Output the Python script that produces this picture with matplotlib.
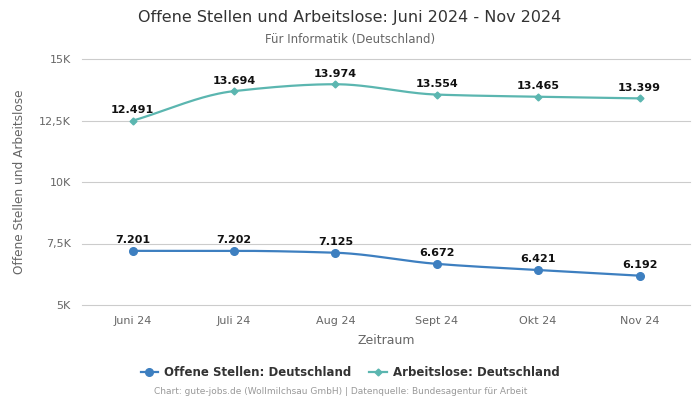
import numpy as np
import matplotlib
matplotlib.use("Agg")
import matplotlib.pyplot as plt

months = ["Juni 24", "Juli 24", "Aug 24", "Sept 24", "Okt 24", "Nov 24"]
offene = [7201, 7202, 7125, 6672, 6421, 6192]
arbeitslose = [12491, 13694, 13974, 13554, 13465, 13399]
yticks = [5000, 7500, 10000, 12500, 15000]
ytick_labels = ["5K", "7,5K", "10K", "12,5K", "15K"]

blue = "#3d7fc0"
teal = "#5bb6b0"


def smooth(x, y, n=40):
    # monotone cubic (Fritsch-Carlson) just for the drawn line shape
    x = np.asarray(x, float)
    y = np.asarray(y, float)
    h = np.diff(x)
    d = np.diff(y) / h
    m = np.zeros_like(y)
    m[0], m[-1] = d[0], d[-1]
    for i in range(1, len(y) - 1):
        if d[i - 1] * d[i] <= 0:
            m[i] = 0
        else:
            m[i] = 2 / (1 / d[i - 1] + 1 / d[i])
    xs, ys = [], []
    for i in range(len(x) - 1):
        t = np.linspace(0, 1, n)
        h00 = 2 * t**3 - 3 * t**2 + 1
        h10 = t**3 - 2 * t**2 + t
        h01 = -2 * t**3 + 3 * t**2
        h11 = t**3 - t**2
        xs.append(x[i] + t * h[i])
        ys.append(h00 * y[i] + h10 * h[i] * m[i] + h01 * y[i + 1] + h11 * h[i] * m[i + 1])
    return np.concatenate(xs), np.concatenate(ys)


fig = plt.figure(figsize=(7, 4), dpi=100)
ax = fig.add_axes([0.117, 0.2375, 0.869, 0.615])

x = np.arange(len(months))
for vals, col, mk, ms, lab in [
    (offene, blue, "o", 5.5, "Offene Stellen: Deutschland"),
    (arbeitslose, teal, "D", 3.5, "Arbeitslose: Deutschland"),
]:
    sx, sy = smooth(x, vals)
    ax.plot(sx, sy, color=col, lw=1.6, zorder=3)
    ax.plot(x, vals, color=col, lw=1.6, marker=mk, markersize=ms, linestyle="none", zorder=4)
    ax.plot([], [], color=col, lw=1.6, marker=mk, markersize=ms, label=lab)
    for xi, v in zip(x, vals):
        ax.annotate(f"{v:,}".replace(",", "."), (xi, v), xytext=(0, 4), textcoords="offset points",
                    ha="center", va="bottom", fontsize=8, fontweight="bold", color="#111111")

ax.set_xlim(-0.5, 5.5)
ax.set_ylim(5000, 15000)
ax.set_xticks(x)
ax.set_xticklabels(months)
ax.set_yticks(yticks)
ax.set_yticklabels(ytick_labels)
ax.tick_params(axis="both", length=0, labelsize=8, labelcolor="#666666", pad=8)
ax.grid(axis="y", color="#cccccc", lw=0.8)
for gl in ax.get_ygridlines():
    gl.set_clip_on(False)
ax.set_axisbelow(True)
for s in ax.spines.values():
    s.set_visible(False)

ax.set_xlabel("Zeitraum", fontsize=9, color="#666666", labelpad=6)
ax.set_ylabel("Offene Stellen und Arbeitslose", fontsize=8.7, color="#666666", labelpad=9)

fig.text(0.5, 0.957, "Offene Stellen und Arbeitslose: Juni 2024 - Nov 2024", ha="center", va="center",
         fontsize=11.5, color="#333333")
fig.text(0.5, 0.902, "Für Informatik (Deutschland)", ha="center", va="center", fontsize=8.5, color="#666666")

fig.legend(loc="center", bbox_to_anchor=(0.5, 0.068), ncol=2, frameon=False,
           prop={"size": 8.5, "weight": "bold"}, labelcolor="#333333", handlelength=1.5,
           handletextpad=0.5, columnspacing=1.5)
fig.text(0.486, 0.02, "Chart: gute-jobs.de (Wollmilchsau GmbH) | Datenquelle: Bundesagentur für Arbeit",
         ha="center", va="center", fontsize=6.5, color="#999999")

fig.savefig("out.png", dpi=100)
